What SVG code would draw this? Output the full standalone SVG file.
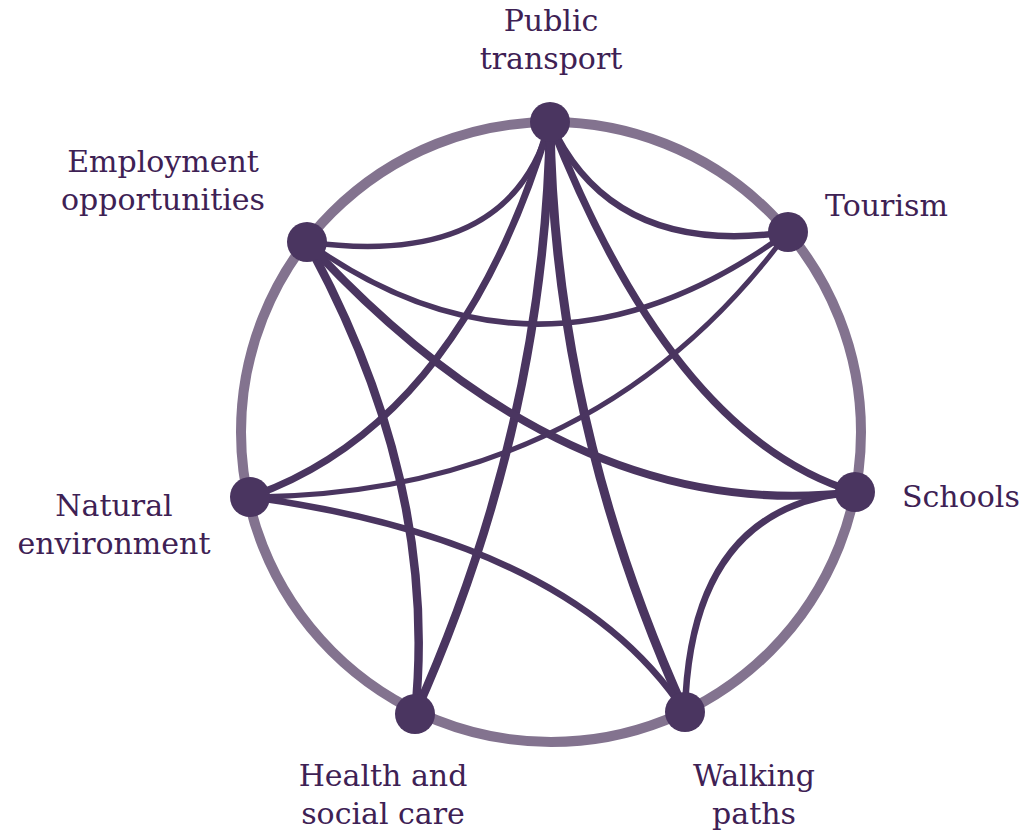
<svg xmlns="http://www.w3.org/2000/svg" width="1030" height="831" viewBox="0 0 1030 831">
  <style>
    .ring { fill: none; stroke: #83738f; stroke-width: 10; }
    .edge { fill: none; stroke: #4a3560; stroke-linecap: round; }
    .node { fill: #4a3560; }
    .label { font-family: "DejaVu Serif", "Liberation Serif", serif; font-size: 30px; fill: #3e2154; }
    .mid { text-anchor: middle; }
  </style>
  <rect width="1030" height="831" fill="#ffffff"/>

  <!-- outer ring -->
  <circle class="ring" cx="551" cy="432" r="310"/>

  <!-- connectors: quadratic curves between nodes on the ring -->
  <g id="connectors">
    <path class="edge" stroke-width="5.5" d="M550,122 Q511,270 307,242"/>
    <path class="edge" stroke-width="6.5" d="M550,122 Q611,258 788,232"/>
    <path class="edge" stroke-width="5.5" d="M307,242 Q543,411 788,232"/>
    <path class="edge" stroke-width="7" d="M550,122 Q460,424 250,497"/>
    <path class="edge" stroke-width="8.5" d="M550,122 Q545,425 415,714"/>
    <path class="edge" stroke-width="9" d="M550,122 Q554,423 685,712"/>
    <path class="edge" stroke-width="7.5" d="M550,122 Q673,437 855,492"/>
    <path class="edge" stroke-width="8" d="M307,242 Q569,527 855,492"/>
    <path class="edge" stroke-width="8.5" d="M307,242 Q439,482 415,714"/>
    <path class="edge" stroke-width="5" d="M788,232 Q595,495 250,497"/>
    <path class="edge" stroke-width="6.5" d="M250,497 Q572,540 685,712"/>
    <path class="edge" stroke-width="6.5" d="M855,492 Q690,505 685,712"/>
  </g>

  <g id="node-public-transport">
    <circle class="node" cx="550" cy="122" r="20"/>
    <text class="label mid" x="551" y="31">Public</text>
    <text class="label mid" x="551" y="69">transport</text>
  </g>
  <g id="node-tourism">
    <circle class="node" cx="788" cy="232" r="20"/>
    <text class="label" x="825" y="216">Tourism</text>
  </g>
  <g id="node-schools">
    <circle class="node" cx="855" cy="492" r="20"/>
    <text class="label" x="902" y="507">Schools</text>
  </g>
  <g id="node-walking-paths">
    <circle class="node" cx="685" cy="712" r="20"/>
    <text class="label mid" x="754" y="786">Walking</text>
    <text class="label mid" x="754" y="824">paths</text>
  </g>
  <g id="node-health-social-care">
    <circle class="node" cx="415" cy="714" r="20"/>
    <text class="label mid" x="383" y="786">Health and</text>
    <text class="label mid" x="383" y="824">social care</text>
  </g>
  <g id="node-natural-environment">
    <circle class="node" cx="250" cy="497" r="20"/>
    <text class="label mid" x="114" y="516">Natural</text>
    <text class="label mid" x="114" y="554">environment</text>
  </g>
  <g id="node-employment-opportunities">
    <circle class="node" cx="307" cy="242" r="20"/>
    <text class="label mid" x="163" y="172">Employment</text>
    <text class="label mid" x="163" y="210">opportunities</text>
  </g>
</svg>
